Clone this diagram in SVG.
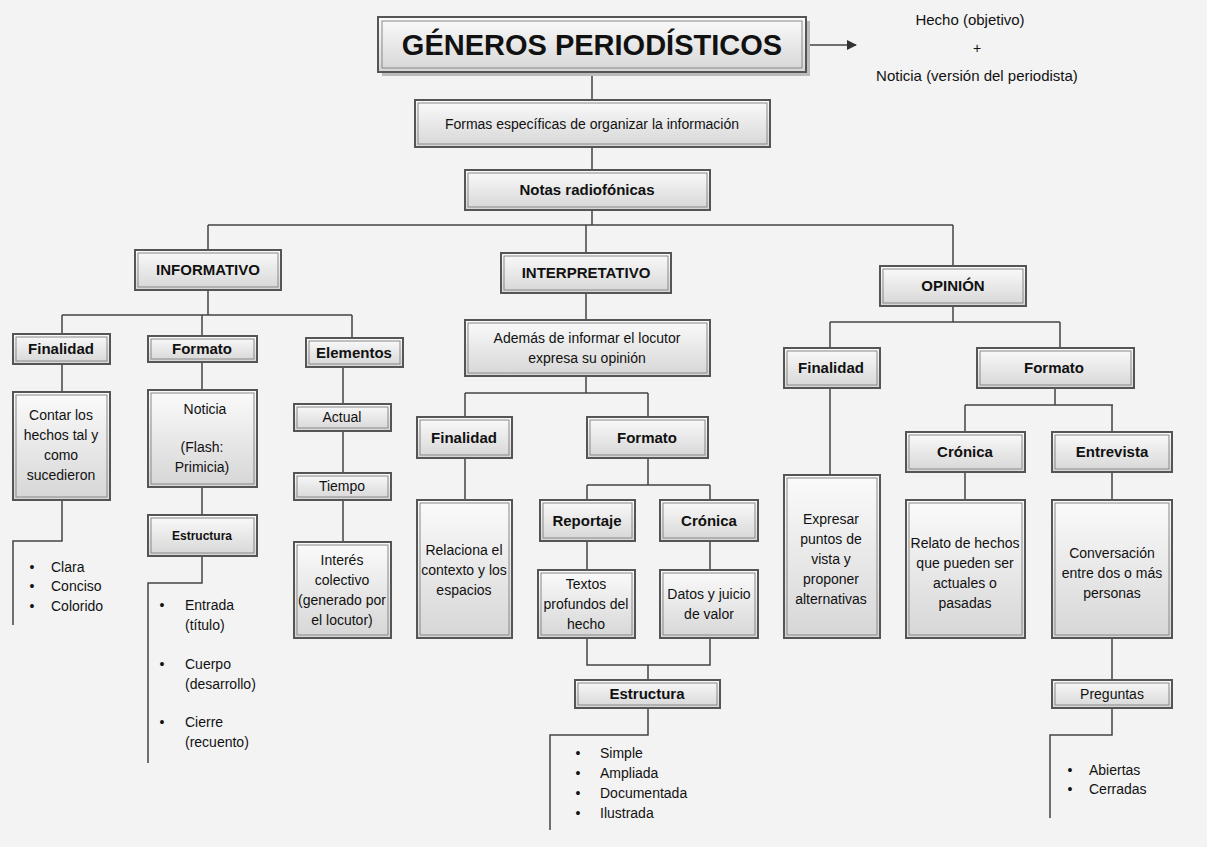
<svg xmlns="http://www.w3.org/2000/svg" width="1207" height="847" viewBox="0 0 1207 847">
<defs>
<linearGradient id="g" x1="0" y1="0" x2="0" y2="1"><stop offset="0" stop-color="#fbfbfb"/><stop offset="1" stop-color="#d6d6d6"/></linearGradient>
<marker id="ar" markerWidth="10" markerHeight="10" refX="9" refY="5" orient="auto" markerUnits="userSpaceOnUse"><path d="M0,0 L10,5 L0,10 z" fill="#333"/></marker>
</defs>
<style>
.b{fill:url(#g);stroke:#555;stroke-width:2}
.i{fill:none;stroke:#888;stroke-width:1}
.s{fill:#bbb}
text{font-family:"Liberation Sans",Arial,sans-serif;fill:#111;text-anchor:middle;font-size:14px}
.h{font-weight:bold;font-size:15px}
.l{text-anchor:start}
#conn path{fill:none;stroke:#444;stroke-width:1.5}
</style>
<rect width="1207" height="847" fill="#f3f3f3"/>
<g id="conn">
<path d="M808,45 H856" marker-end="url(#ar)"/>
<path d="M592,72 V100 M592,147 V170 M592,210 V225 M208,225 H953 M208,225 V250 M586,225 V253 M953,225 V266"/>
<path d="M208,290 V315 M62,315 H352 M62,315 V334 M202,315 V336 M352,315 V338"/>
<path d="M62,364 V392 M62,500 V541 H13 V625"/>
<path d="M202,362 V390 M202,487 V515 M202,556 V583 H148 V763"/>
<path d="M343,367 V404 M343,431 V473 M343,500 V542"/>
<path d="M586,293 V320 M586,376 V393 M465,393 H648 M465,393 V417 M648,393 V417"/>
<path d="M465,458 V500 M648,458 V485 M587,485 H710 M587,485 V500 M710,485 V500"/>
<path d="M587,541 V570 M710,541 V570 M587,638 V665 H710 V638 M648,665 V680 M648,708 V735 H550 V830"/>
<path d="M953,306 V322 M830,322 H1060 M830,322 V348 M1060,322 V348"/>
<path d="M830,388 V475 M1055,388 V405 M965,405 H1113 M965,405 V432 M1112,405 V432"/>
<path d="M965,472 V500 M1112,472 V500 M1112,638 V680 M1112,708 V735 H1050 V818"/>
</g>
<g id="title"><rect class="s" x="382" y="21" width="428" height="55"/><rect class="b" x="378" y="17" width="428" height="55"/><rect class="i" x="382" y="21" width="420" height="47"/><text x="592" y="55" style="font-size:29px;font-weight:bold">GÉNEROS PERIODÍSTICOS</text></g>
<g id="hecho"><text x="970" y="25" style="font-size:15px">Hecho (objetivo)</text><text x="977" y="53">+</text><text x="977" y="81" style="font-size:15px">Noticia (versión del periodista)</text></g>
<g id="formas"><rect class="b" x="415" y="100" width="355" height="47"/><rect class="i" x="418" y="103" width="349" height="41"/><text x="592" y="129">Formas específicas de organizar la información</text></g>
<g id="notas"><rect class="b" x="465" y="170" width="245" height="40"/><rect class="i" x="468" y="173" width="239" height="34"/><text class="h" x="587" y="195">Notas radiofónicas</text></g>
<g id="informativo"><rect class="b" x="135" y="250" width="146" height="40"/><rect class="i" x="138" y="253" width="140" height="34"/><text class="h" x="208" y="275">INFORMATIVO</text></g>
<g id="interpretativo"><rect class="b" x="501" y="253" width="170" height="40"/><rect class="i" x="504" y="256" width="164" height="34"/><text class="h" x="586" y="278">INTERPRETATIVO</text></g>
<g id="opinion"><rect class="b" x="880" y="266" width="146" height="40"/><rect class="i" x="883" y="269" width="140" height="34"/><text class="h" x="953" y="291">OPINIÓN</text></g>
<g id="fin1"><rect class="b" x="13" y="334" width="97" height="30"/><rect class="i" x="16" y="337" width="91" height="24"/><text class="h" x="61" y="354">Finalidad</text></g>
<g id="fmt1"><rect class="b" x="148" y="336" width="109" height="26"/><rect class="i" x="151" y="339" width="103" height="20"/><text class="h" x="202" y="354">Formato</text></g>
<g id="elem"><rect class="b" x="306" y="338" width="97" height="29"/><rect class="i" x="309" y="341" width="91" height="23"/><text class="h" x="354" y="358">Elementos</text></g>
<g id="contar"><rect class="b" x="13" y="392" width="97" height="108"/><rect class="i" x="16" y="395" width="91" height="102"/><text x="61" y="420">Contar los</text><text x="61" y="440">hechos tal y</text><text x="61" y="460">como</text><text x="61" y="480">sucedieron</text></g>
<g id="b1"><text x="32" y="572">•</text><text class="l" x="51" y="572">Clara</text><text x="32" y="591">•</text><text class="l" x="51" y="591">Conciso</text><text x="32" y="611">•</text><text class="l" x="51" y="611">Colorido</text></g>
<g id="noticia"><rect class="b" x="148" y="390" width="109" height="97"/><rect class="i" x="151" y="393" width="103" height="91"/><text x="205" y="414">Noticia</text><text x="202" y="452">(Flash:</text><text x="202" y="472">Primicia)</text></g>
<g id="estr1"><rect class="b" x="148" y="515" width="109" height="41"/><rect class="i" x="151" y="518" width="103" height="35"/><text class="h" x="202" y="540" style="font-size:12px">Estructura</text></g>
<g id="b2"><text x="162" y="610">•</text><text class="l" x="185" y="610">Entrada</text><text class="l" x="185" y="630">(título)</text><text class="l" x="185" y="669">Cuerpo</text><text class="l" x="185" y="689">(desarrollo)</text><text class="l" x="185" y="727">Cierre</text><text class="l" x="185" y="747">(recuento)</text><text x="162" y="669">•</text><text x="162" y="727">•</text></g>
<g id="actual"><rect class="b" x="294" y="404" width="97" height="27"/><rect class="i" x="297" y="407" width="91" height="21"/><text x="342" y="422">Actual</text></g>
<g id="tiempo"><rect class="b" x="294" y="473" width="97" height="27"/><rect class="i" x="297" y="476" width="91" height="21"/><text x="342" y="491">Tiempo</text></g>
<g id="interes"><rect class="b" x="294" y="542" width="97" height="96"/><rect class="i" x="297" y="545" width="91" height="90"/><text x="342" y="565">Interés</text><text x="342" y="585">colectivo</text><text x="342" y="605">(generado por</text><text x="342" y="625">el locutor)</text></g>
<g id="ademas"><rect class="b" x="465" y="320" width="245" height="56"/><rect class="i" x="468" y="323" width="239" height="50"/><text x="587" y="343">Además de informar el locutor</text><text x="587" y="363">expresa su opinión</text></g>
<g id="fin2"><rect class="b" x="417" y="417" width="95" height="41"/><rect class="i" x="420" y="420" width="89" height="35"/><text class="h" x="464" y="443">Finalidad</text></g>
<g id="fmt2"><rect class="b" x="587" y="417" width="121" height="41"/><rect class="i" x="590" y="420" width="115" height="35"/><text class="h" x="647" y="443">Formato</text></g>
<g id="relaciona"><rect class="b" x="417" y="500" width="95" height="138"/><rect class="i" x="420" y="503" width="89" height="132"/><text x="464" y="555">Relaciona el</text><text x="464" y="575">contexto y los</text><text x="464" y="595">espacios</text></g>
<g id="reportaje"><rect class="b" x="540" y="500" width="95" height="41"/><rect class="i" x="543" y="503" width="89" height="35"/><text class="h" x="587" y="526">Reportaje</text></g>
<g id="cronica2"><rect class="b" x="660" y="500" width="98" height="41"/><rect class="i" x="663" y="503" width="92" height="35"/><text class="h" x="709" y="526">Crónica</text></g>
<g id="textos"><rect class="b" x="538" y="570" width="97" height="68"/><rect class="i" x="541" y="573" width="91" height="62"/><text x="586" y="589">Textos</text><text x="586" y="609">profundos del</text><text x="586" y="629">hecho</text></g>
<g id="datos"><rect class="b" x="660" y="570" width="98" height="68"/><rect class="i" x="663" y="573" width="92" height="62"/><text x="709" y="599">Datos y juicio</text><text x="709" y="619">de valor</text></g>
<g id="estr2"><rect class="b" x="575" y="680" width="145" height="28"/><rect class="i" x="578" y="683" width="139" height="22"/><text class="h" x="647" y="699">Estructura</text></g>
<g id="b3"><text x="578" y="758">•</text><text class="l" x="600" y="758">Simple</text><text x="578" y="778">•</text><text class="l" x="600" y="778">Ampliada</text><text x="578" y="798">•</text><text class="l" x="600" y="798">Documentada</text><text x="578" y="818">•</text><text class="l" x="600" y="818">Ilustrada</text></g>
<g id="fin3"><rect class="b" x="784" y="348" width="96" height="40"/><rect class="i" x="787" y="351" width="90" height="34"/><text class="h" x="831" y="373">Finalidad</text></g>
<g id="fmt3"><rect class="b" x="977" y="348" width="157" height="40"/><rect class="i" x="980" y="351" width="151" height="34"/><text class="h" x="1054" y="373">Formato</text></g>
<g id="expresar"><rect class="b" x="784" y="475" width="96" height="163"/><rect class="i" x="787" y="478" width="90" height="157"/><text x="831" y="524">Expresar</text><text x="831" y="544">puntos de</text><text x="831" y="564">vista y</text><text x="831" y="584">proponer</text><text x="831" y="604">alternativas</text></g>
<g id="cronica3"><rect class="b" x="906" y="432" width="119" height="40"/><rect class="i" x="909" y="435" width="113" height="34"/><text class="h" x="965" y="457">Crónica</text></g>
<g id="entrevista"><rect class="b" x="1052" y="432" width="120" height="40"/><rect class="i" x="1055" y="435" width="114" height="34"/><text class="h" x="1112" y="457">Entrevista</text></g>
<g id="relato"><rect class="b" x="906" y="500" width="119" height="138"/><rect class="i" x="909" y="503" width="113" height="132"/><text x="965" y="548">Relato de hechos</text><text x="965" y="568">que pueden ser</text><text x="965" y="588">actuales o</text><text x="965" y="608">pasadas</text></g>
<g id="conversacion"><rect class="b" x="1052" y="500" width="120" height="138"/><rect class="i" x="1055" y="503" width="114" height="132"/><text x="1112" y="558">Conversación</text><text x="1112" y="578">entre dos o más</text><text x="1112" y="598">personas</text></g>
<g id="preguntas"><rect class="b" x="1052" y="680" width="120" height="28"/><rect class="i" x="1055" y="683" width="114" height="22"/><text x="1112" y="699">Preguntas</text></g>
<g id="b4"><text x="1070" y="775">•</text><text class="l" x="1089" y="775">Abiertas</text><text x="1070" y="794">•</text><text class="l" x="1089" y="794">Cerradas</text></g>
</svg>
